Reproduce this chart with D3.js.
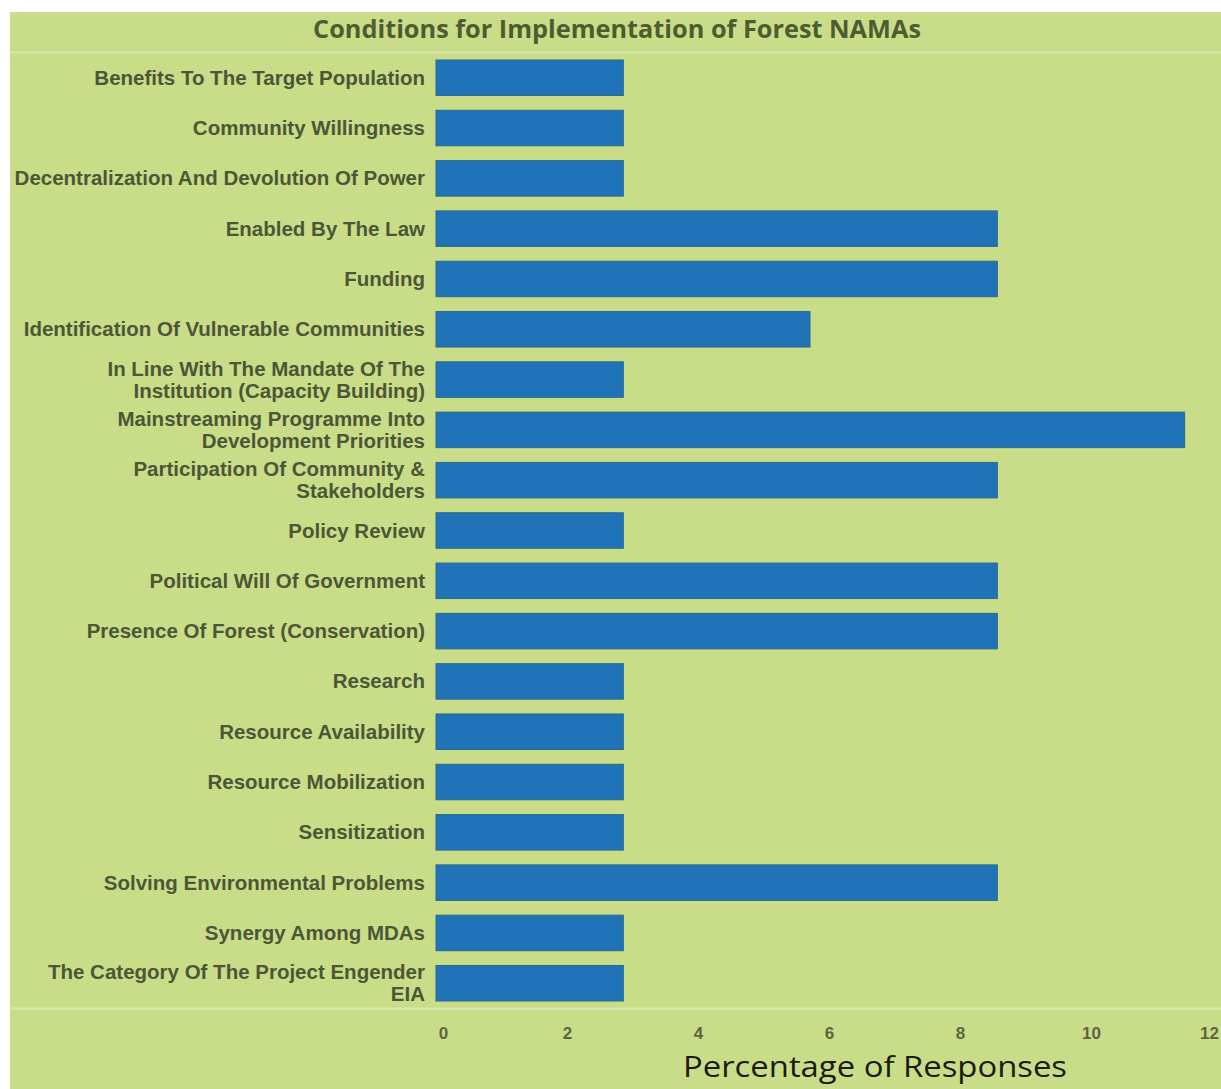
<!DOCTYPE html>
<html>
<head>
<meta charset="utf-8">
<script src="https://cdn.jsdelivr.net/npm/d3@7"></script>
<style>
  body { margin: 0; background: #fff; }
  svg { display: block; }
</style>
</head>
<body>
<div class="chart"></div>
<script>
// data
var categories = [
  ["Benefits To The Target Population"],
  ["Community Willingness"],
  ["Decentralization And Devolution Of Power"],
  ["Enabled By The Law"],
  ["Funding"],
  ["Identification Of Vulnerable Communities"],
  ["In Line With The Mandate Of The", "Institution (Capacity Building)"],
  ["Mainstreaming Programme Into", "Development Priorities"],
  ["Participation Of Community &", "Stakeholders"],
  ["Policy Review"],
  ["Political Will Of Government"],
  ["Presence Of Forest (Conservation)"],
  ["Research"],
  ["Resource Availability"],
  ["Resource Mobilization"],
  ["Sensitization"],
  ["Solving Environmental Problems"],
  ["Synergy Among MDAs"],
  ["The Category Of The Project Engender", "EIA"]
];
var values = [2.86, 2.86, 2.86, 8.57, 8.57, 5.71, 2.86, 11.43, 8.57, 2.86,
              8.57, 8.57, 2.86, 2.86, 2.86, 2.86, 8.57, 2.86, 2.86];
var xTicks = [0, 2, 4, 6, 8, 10, 12];

var W = 1221, H = 1089;

var svg = d3.select(".chart")
    .append("svg")
    .attr("width", W)
    .attr("height", H);

// green panel
svg.append("rect")
    .attr("x", 10).attr("y", 12)
    .attr("width", W - 10).attr("height", H - 12)
    .style("fill", "#c9dd89");

var keys = categories.map(function (d) { return d.join(" "); });

var x = d3.scaleLinear()
    .domain([0, 12])
    .range([436, 1222]);

var y = d3.scaleBand()
    .domain(keys)
    .range([52.6, 1008.4])
    .paddingInner(0.294)
    .paddingOuter(0.147);

// faint lines above and below the plot
svg.selectAll(".edge")
    .data(y.range())
    .enter().append("line")
    .attr("x1", 10).attr("x2", W)
    .attr("y1", function (d) { return d; })
    .attr("y2", function (d) { return d; })
    .style("stroke", "#d9e5b0")
    .style("stroke-width", 2);

// title
svg.append("text")
    .attr("x", 617)
    .attr("y", 38)
    .attr("text-anchor", "middle")
    .style("font-family", "'Open Sans', sans-serif")
    .style("font-weight", 700)
    .style("font-size", "25.3px")
    .style("fill", "#4e5d30")
    .text("Conditions for Implementation of Forest NAMAs");

// bars
svg.selectAll(".bar")
    .data(values)
    .enter().append("rect")
    .attr("class", "bar")
    .attr("x", x(0))
    .attr("y", function (d, i) { return y(keys[i]); })
    .attr("width", function (d) { return x(d) - x(0); })
    .attr("height", y.bandwidth())
    .style("fill", "#1f73b6")
    .style("stroke", "#2a6a8e")
    .style("stroke-width", 1);

// category labels
var lab = svg.append("g")
    .style("font-family", "'Liberation Sans', Arial, sans-serif")
    .style("font-weight", 700)
    .style("font-size", "20.5px")
    .style("fill", "#4b5736")
    .attr("text-anchor", "end");

lab.selectAll("text")
    .data(categories)
    .enter().append("text")
    .attr("x", 425)
    .attr("y", function (d, i) {
        return y(keys[i]) + y.bandwidth() / 2 + 7 - (d.length - 1) * 11;
    })
    .each(function (d) {
        var t = d3.select(this);
        d.forEach(function (line, j) {
            t.append("tspan")
                .attr("x", 425)
                .attr("dy", j === 0 ? 0 : 22)
                .text(line);
        });
    });

// x axis
var xAxis = svg.append("g")
    .attr("transform", "translate(0,1012)")
    .call(d3.axisBottom(x).tickValues(xTicks).tickSize(0).tickPadding(15));
xAxis.select(".domain").remove();
xAxis.selectAll("text")
    .style("font-family", "'Liberation Sans', Arial, sans-serif")
    .style("font-weight", 700)
    .style("font-size", "17px")
    .style("fill", "#59663f")
    .attr("dx", function (d) { return d === 0 ? 7 : (d === 12 ? -13 : 0); });

// axis title
svg.append("text")
    .attr("x", 875)
    .attr("y", 1077)
    .attr("text-anchor", "middle")
    .attr("textLength", 384)
    .attr("lengthAdjust", "spacingAndGlyphs")
    .style("font-family", "'Open Sans', sans-serif")
    .style("font-size", "30px")
    .style("fill", "#1a1a10")
    .text("Percentage of Responses");
</script>
</body>
</html>
